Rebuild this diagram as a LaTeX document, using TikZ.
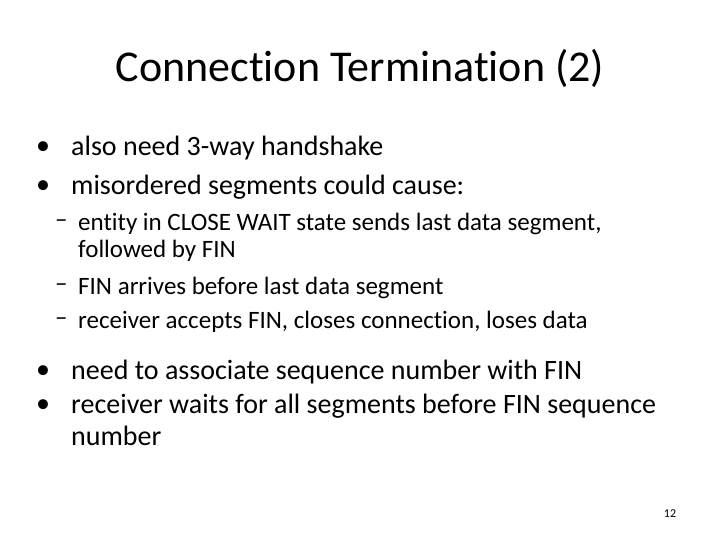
\documentclass[tikz,border=0pt]{standalone}
\usepackage{fontspec}
\setmainfont{Carlito}[RawFeature=-liga]
\begin{document}
\begin{tikzpicture}[x=1pt,y=-1pt,
  big/.style={anchor=west,inner sep=0pt,font=\fontsize{28}{32}\selectfont},
  small/.style={anchor=west,inner sep=0pt,font=\fontsize{25}{29}\selectfont}]
\useasboundingbox (0,0) rectangle (720,540);
\node[inner sep=0pt,font=\fontsize{44}{50}\selectfont] (title) at (360,68) {Connection Termination (2)};
\node[big] (b1d) at (36,148) {•};
\node[big] (b1) at (71,148) {also need 3-way handshake};
\node[big] (b2d) at (36,187) {•};
\node[big] (b2) at (71,187) {misordered segments could cause:};
\node[small] (s1d) at (55,224) {–};
\node[small] (s1) at (78,224) {entity in CLOSE WAIT state sends last data segment,};
\node[small] (s1b) at (78,251) {followed by FIN};
\node[small] (s2d) at (55,288) {–};
\node[small] (s2) at (78,288) {FIN arrives before last data segment};
\node[small] (s3d) at (55,322) {–};
\node[small] (s3) at (78,322) {receiver accepts FIN, closes connection, loses data};
\node[big] (b3d) at (36,372) {•};
\node[big] (b3) at (71,372) {need to associate sequence number with FIN};
\node[big] (b4d) at (36,406) {•};
\node[big] (b4) at (71,406) {receiver waits for all segments before FIN sequence};
\node[big] (b4b) at (71,436) {number};
\node[inner sep=0pt,font=\fontsize{12}{14}\selectfont] (pg) at (670,514) {12};
\end{tikzpicture}
\end{document}
